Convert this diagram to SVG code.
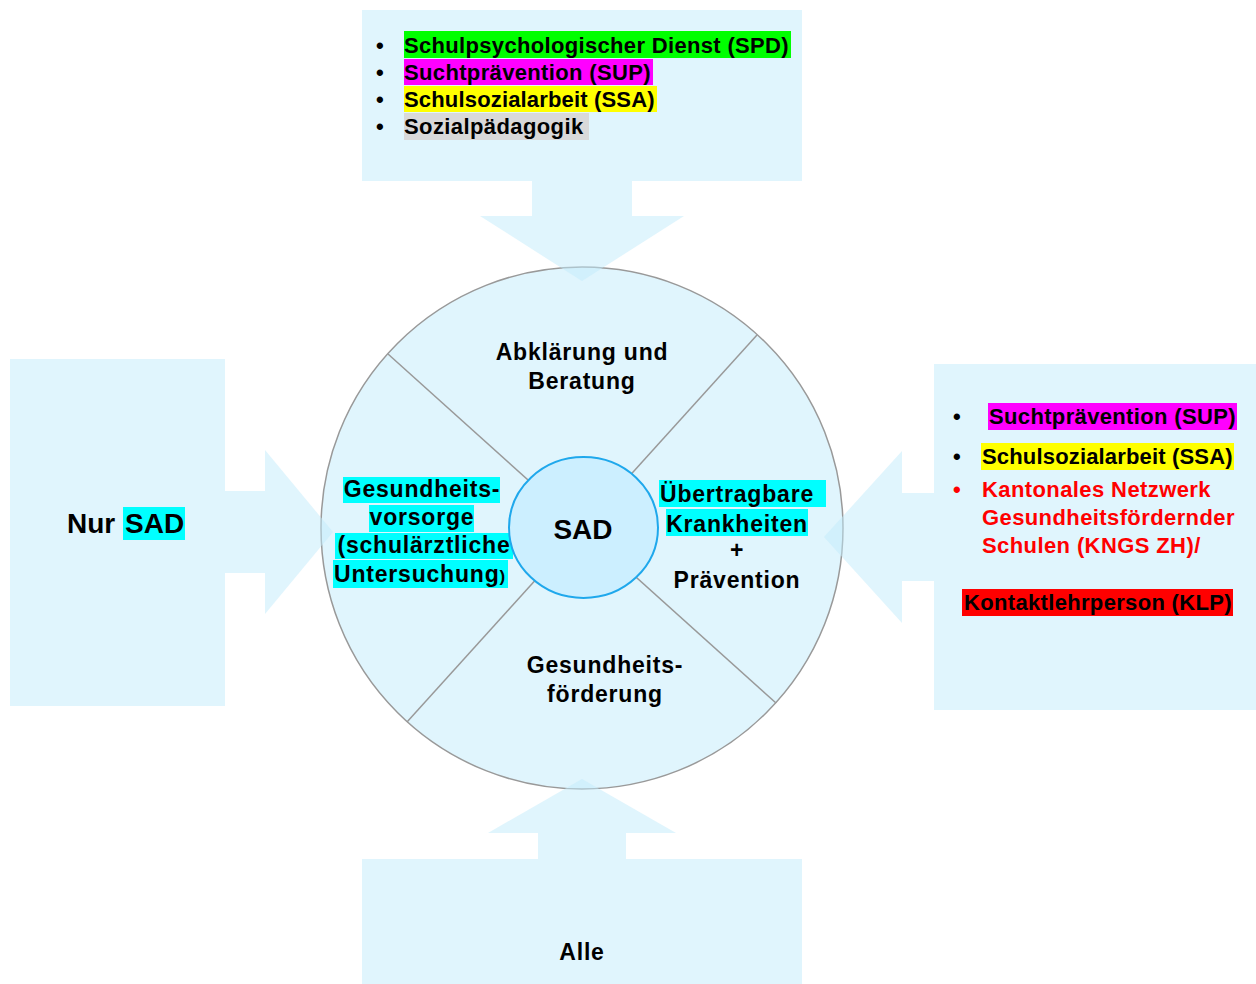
<svg xmlns="http://www.w3.org/2000/svg" width="1256" height="984" viewBox="0 0 1256 984">
<style>
.bg{fill:#ffffff}
.arrow{fill:#c2ebfb;fill-opacity:0.5}
.wheel{fill:#c2ebfb;fill-opacity:0.5;stroke:#999999;stroke-width:1.5}
.div{stroke:#999999;stroke-width:1.5;fill:none}
.hub{fill:#ccefff;stroke:#1fa8ec;stroke-width:2}
text{font-family:"Liberation Sans",Arial,sans-serif;font-weight:bold;fill:#000000}
.list{font-size:22px;letter-spacing:0.4px}
.seg{font-size:23px;letter-spacing:0.8px;text-anchor:middle}
.big{font-size:28px}
.red{fill:#ff0000}
</style>
<rect class="bg" x="0" y="0" width="1256" height="984"/>

<g id="wheel">
  <circle class="wheel" cx="582" cy="528" r="261"/>
  <g id="connectors">
    <line class="div" x1="388" y1="354" x2="776" y2="703"/>
    <line class="div" x1="757" y1="335" x2="407" y2="722"/>
  </g>
</g>

<g id="node-top">
  <path class="arrow" d="M362,10 H802 V181 H632 V216 H684 L582,281 L480,216 H532 V181 H362 Z"/>
  <rect x="404" y="31" width="387" height="27" fill="#00ff00"/>
  <rect x="404" y="59" width="249" height="26" fill="#ff00ff"/>
  <rect x="404" y="86" width="253" height="26" fill="#ffff00"/>
  <rect x="404" y="113" width="185" height="27" fill="#d9d9d9"/>
  <text class="list" x="376" y="53">•</text>
  <text class="list" x="376" y="80">•</text>
  <text class="list" x="376" y="107">•</text>
  <text class="list" x="376" y="134">•</text>
  <text class="list" x="404" y="53" textLength="385">Schulpsychologischer Dienst (SPD)</text>
  <text class="list" x="404" y="80" textLength="247">Suchtprävention (SUP)</text>
  <text class="list" x="404" y="107" textLength="251">Schulsozialarbeit (SSA)</text>
  <text class="list" x="404" y="134">Sozialpädagogik</text>
</g>

<g id="node-left">
  <path class="arrow" d="M10,359 H225 V491 H265 V450 L333,532 L265,614 V573 H225 V706 H10 Z"/>
  <rect x="123" y="507" width="62" height="33" fill="#00ffff"/>
  <text class="big" x="67" y="533">Nur <tspan x="125">SAD</tspan></text>
</g>

<g id="node-right">
  <path class="arrow" d="M1256,364 V710 H934 V581 H902 V623 L824,537 L902,451 V493 H934 V364 Z"/>
  <rect x="988" y="403" width="249" height="27" fill="#ff00ff"/>
  <rect x="981" y="443" width="253" height="27" fill="#ffff00"/>
  <rect x="962" y="589" width="271" height="27" fill="#ff0000"/>
  <text class="list" x="953" y="424">•</text>
  <text class="list" x="953" y="464">•</text>
  <text class="list red" x="953" y="497">•</text>
  <text class="list" x="989" y="424" textLength="247">Suchtprävention (SUP)</text>
  <text class="list" x="982" y="464" textLength="251">Schulsozialarbeit (SSA)</text>
  <text class="list red" x="982" y="497">Kantonales Netzwerk</text>
  <text class="list red" x="982" y="525">Gesundheitsfördernder</text>
  <text class="list red" x="982" y="553">Schulen (KNGS ZH)/</text>
  <text class="list" x="964" y="610" textLength="268">Kontaktlehrperson (KLP)</text>
</g>

<g id="node-bottom">
  <path class="arrow" d="M362,984 V859 H538 V833 H488 L582,779 L676,833 H626 V859 H802 V984 Z"/>
  <text class="seg" x="582" y="960">Alle</text>
</g>

<g id="seg-top">
  <text class="seg" x="582" y="360">Abklärung und</text>
  <text class="seg" x="582" y="389">Beratung</text>
</g>

<g id="seg-left">
  <rect x="343" y="477" width="157" height="26" fill="#00ffff"/>
  <rect x="369" y="505" width="105" height="27" fill="#00ffff"/>
  <rect x="335" y="533" width="178" height="26" fill="#00ffff"/>
  <rect x="333" y="560" width="175" height="28" fill="#00ffff"/>
  <text class="seg" x="422" y="497">Gesundheits-</text>
  <text class="seg" x="422" y="525">vorsorge</text>
  <text class="seg" x="424" y="553">(schulärztliche</text>
  <text class="seg" x="420" y="582">Untersuchung<tspan style="font-size:17px">)</tspan></text>
</g>

<g id="seg-right">
  <rect x="659" y="480" width="167" height="27" fill="#00ffff"/>
  <rect x="666" y="509" width="142" height="27" fill="#00ffff"/>
  <text class="seg" x="737" y="502">Übertragbare</text>
  <text class="seg" x="737" y="532">Krankheiten</text>
  <text class="seg" x="737" y="558">+</text>
  <text class="seg" x="737" y="588">Prävention</text>
</g>

<g id="seg-bottom">
  <text class="seg" x="605" y="673">Gesundheits-</text>
  <text class="seg" x="605" y="702">förderung</text>
</g>

<g id="hub">
  <ellipse class="hub" cx="583.5" cy="527.5" rx="74.5" ry="70.5"/>
  <text class="big" x="583" y="539" text-anchor="middle">SAD</text>
</g>
</svg>
